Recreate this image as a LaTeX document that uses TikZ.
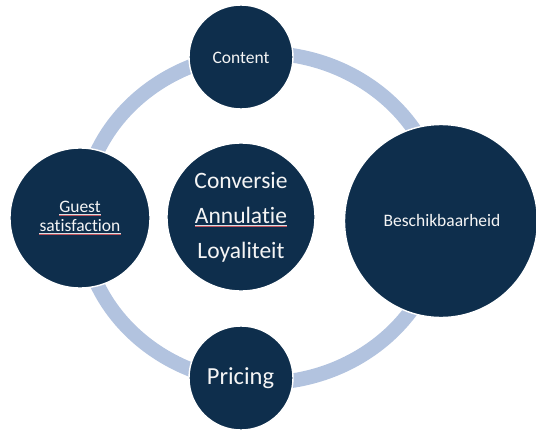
\documentclass[tikz,border=0pt]{standalone}
\usepackage{fontspec}
\setmainfont{Carlito}[Ligatures={NoCommon}]
\definecolor{navy}{RGB}{14,46,76}
\definecolor{ringc}{RGB}{178,195,223}
\definecolor{txt}{RGB}{245,245,245}
\definecolor{spell}{RGB}{190,80,90}
\tikzset{
  bubble/.style={circle, fill=navy, draw=white, line width=1.4pt, inner sep=0pt, minimum size=#1},
  lbl/.style={text=txt, inner sep=0pt, anchor=base},
  small/.style={font=\fontsize{17.5}{21}\selectfont},
  big/.style={font=\fontsize{23.5}{28}\selectfont},
  ulw/.style={draw=white!85!navy, line width=0.4pt},
  ulr/.style={draw=spell, line width=0.5pt}
}
\begin{document}
\begin{tikzpicture}[x=1pt,y=-1pt]
\useasboundingbox (0,0) rectangle (536,431);
% ring
\draw[ringc, line width=14.5pt] (262,218) ellipse [x radius=180pt, y radius=165pt];
% circles
\node[bubble=104pt] (content) at (241,57) {};
\node[bubble=140pt] (guest) at (80,218) {};
\node[bubble=148pt] (core) at (241,217) {};
\node[bubble=193pt] (beschik) at (441,221) {};
\node[bubble=104pt] (pricing) at (241,378) {};
% texts
\node[lbl, small] (tcontent) at (241,63) {Content};
\node[lbl, small] (tg1) at (80,212.5) {Guest};
\node[lbl, small] (tg2) at (80,231.5) {satisfact\kern0pt ion};
\node[lbl, big] (tc1) at (241,188) {Conversie};
\node[lbl, big] (tc2) at (241,223.5) {Annulat\kern0pt ie};
\node[lbl, big] (tc3) at (241,258.5) {Loyaliteit};
\node[lbl, small] (tbes) at (442,226) {Beschikbaarheid};
\node[lbl, font=\fontsize{24.5}{29}\selectfont] (tpricing) at (240.5,384.5) {Pricing};
% spell-check underlines
\foreach \n in {tg1,tg2,tc2}{
  \draw[ulw] ([yshift=-1.6pt]\n.base west) -- ([yshift=-1.6pt]\n.base east);
  \draw[ulr] ([yshift=-2.4pt]\n.base west) -- ([yshift=-2.4pt]\n.base east);
}
\end{tikzpicture}
\end{document}
